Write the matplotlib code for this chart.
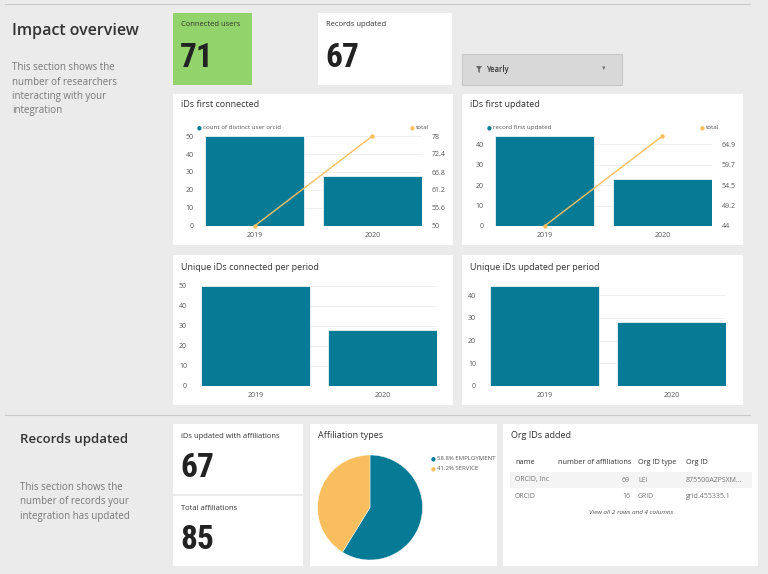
import matplotlib
matplotlib.use("Agg")
import matplotlib.pyplot as plt
from matplotlib.patches import Rectangle, Polygon
from matplotlib.ticker import FixedLocator

# ---------------- data ----------------
years = ["2019", "2020"]
connected_counts = [50, 28]
connected_totals = [50, 78]
updated_counts = [44, 23]
updated_totals = [44, 67]
unique_connected = [50, 28]
unique_updated = [44, 28]
kpi_labels = ["Connected users", "Records updated", "iDs updated with affiliations", "Total affiliations"]
kpi_values = [71, 67, 67, 85]
affiliation_types = ["EMPLOYMENT", "SERVICE"]
affiliation_shares = [58.8, 41.2]
table_header = ["name", "number of affiliations", "Org ID type", "Org ID"]
table_names = ["ORCID, Inc", "ORCID"]
table_counts = [69, 16]
table_types = ["LEI", "GRID"]
table_ids = ["875500AZPSXM...", "grid.455335.1"]

# ---------------- style ----------------
W, H = 768, 574
TEAL = "#077b95"
ORANGE = "#f9bf5f"
GREEN = "#92d36b"
BG = "#ebebeb"
DARK = "#333333"
MID = "#555555"
LIGHT = "#777777"
plt.rcParams["font.family"] = ["Open Sans", "DejaVu Sans"]

fig = plt.figure(figsize=(W / 100, H / 100), dpi=100, facecolor=BG)


def fx(x):
    return x / W


def fy(y):
    return 1 - y / H


def rect(x0, y0, x1, y1):
    return [x0 / W, 1 - y1 / H, (x1 - x0) / W, (y1 - y0) / H]


def panel(x0, y0, x1, y1, color="white", edge="none"):
    fig.add_artist(Rectangle((fx(x0), fy(y1)), (x1 - x0) / W, (y1 - y0) / H,
                             transform=fig.transFigure, facecolor=color,
                             edgecolor=edge, linewidth=0.8, zorder=0))


def text(x, y, s, size=7, color=DARK, **kw):
    kw.setdefault("va", "center")
    kw.setdefault("ha", "left")
    fig.text(fx(x), fy(y), s, fontsize=size, color=color, **kw)


# separators
fig.add_artist(plt.Line2D([fx(5), fx(750)], [fy(4), fy(4)], color="#c9c9c9", lw=0.8))
fig.add_artist(plt.Line2D([fx(5), fx(750)], [fy(415), fy(415)], color="#c9c9c9", lw=0.8))

# section 1 text
text(12, 31, "Impact overview", size=11.5, color=DARK, fontweight="semibold")
for i, line in enumerate(["This section shows the", "number of researchers",
                          "interacting with your", "integration"]):
    text(12, 68 + i * 14.3, line, size=7, color=LIGHT)

# KPI cards
BIGFONT = ["Roboto Condensed", "Liberation Sans Narrow", "DejaVu Sans"]
panel(173, 13, 252, 85, color=GREEN)
text(181, 25, kpi_labels[0], size=5.5, color=DARK)
text(180, 58, str(kpi_values[0]), size=24, color="#222222", fontweight="bold", family=BIGFONT)
panel(318, 13, 452, 85)
text(326, 25, kpi_labels[1], size=5.5, color=DARK)
text(325, 58, str(kpi_values[1]), size=24, color="#222222", fontweight="bold", family=BIGFONT)

# dropdown
panel(462, 54, 622, 85, color="#d8d8d8", edge="#c6c6c6")
fig.add_artist(Polygon([(fx(476), fy(66)), (fx(482), fy(66)), (fx(479.8), fy(69)),
                        (fx(479.8), fy(73)), (fx(478.2), fy(72)), (fx(478.2), fy(69))],
                       closed=True, transform=fig.transFigure, facecolor="#666666",
                       edgecolor="none"))
text(486, 70, "Yearly", size=5.5, color=DARK, fontweight="semibold")
text(604, 69, "\u25be", size=5, color="#777777", ha="center")


def style_axis(ax, ymax, yticks, pad):
    ax.set_facecolor("none")
    for s in ax.spines.values():
        s.set_visible(False)
    ax.set_ylim(0, ymax)
    ax.yaxis.set_major_locator(FixedLocator(yticks))
    ax.tick_params(axis="x", length=0, labelsize=5, colors=MID, pad=4)
    ax.tick_params(axis="y", length=0, labelsize=5, colors=MID, pad=pad)
    ax.grid(axis="y", color="#eeeeee", lw=0.6)
    ax.set_axisbelow(True)


def bar_chart(px, vals, ymax, yticks, width=0.84, xlim=(-0.42, 1.42), pad=8):
    ax = fig.add_axes(rect(*px))
    ax.bar(range(len(years)), vals, width=width, color=TEAL, edgecolor="white", lw=0.5, zorder=2)
    ax.set_xticks(range(len(years)))
    ax.set_xticklabels(years)
    ax.set_xlim(*xlim)
    style_axis(ax, ymax, yticks, pad)
    return ax


def combo(px, counts, totals, ymax, yticks, tot_lo, tot_hi, rticks, lname):
    ax = bar_chart(px, counts, ymax, yticks, pad=8)
    ax2 = ax.twinx()
    ax2.plot(range(len(years)), totals, color=ORANGE, lw=1.0, marker="o", ms=2.2,
             zorder=3, clip_on=False)
    ax2.set_ylim(tot_lo, tot_hi)
    ax2.yaxis.set_major_locator(FixedLocator(rticks))
    ax2.set_yticklabels(["%g" % round(t, 1) for t in rticks])
    ax2.tick_params(axis="y", length=0, labelsize=5, colors=MID, pad=7)
    for s in ax2.spines.values():
        s.set_visible(False)
    x0, y0, x1, y1 = px
    # legends
    fig.text(fx(x0 - 8), fy(y0 - 8), "\u25cf", fontsize=4, color=TEAL, va="center")
    fig.text(fx(x0 - 2), fy(y0 - 8), lname, fontsize=4.5, color=MID, va="center")
    fig.text(fx(x1 - 12), fy(y0 - 8), "\u25cf", fontsize=4, color=ORANGE, va="center")
    fig.text(fx(x1 - 6), fy(y0 - 8), "total", fontsize=4.5, color=MID, va="center")
    return ax


# panel 1
panel(173, 94, 453, 245)
text(181, 105, "iDs first connected", size=6.5, color=DARK)
step1 = (connected_totals[1] - connected_totals[0]) / 5
combo((205, 136, 422, 226), connected_counts, connected_totals, 50, [0, 10, 20, 30, 40, 50],
      connected_totals[0], connected_totals[1],
      [connected_totals[0] + k * step1 for k in range(6)], "count of distinct user orcid")

# panel 2
panel(462, 94, 743, 245)
text(470, 105, "iDs first updated", size=6.5, color=DARK)
ratio = (updated_totals[1] - updated_totals[0]) / updated_counts[0]
combo((495, 136, 712, 226), updated_counts, updated_totals, updated_counts[0], [0, 10, 20, 30, 40],
      updated_totals[0], updated_totals[1],
      [updated_totals[0] + k * 10 * ratio for k in range(5)], "record first updated")

# panel 3
panel(173, 255, 453, 405)
text(181, 267, "Unique iDs connected per period", size=6.5, color=DARK)
bar_chart((201, 286, 437, 386), unique_connected, 50, [0, 10, 20, 30, 40, 50],
          width=0.86, xlim=(-0.43, 1.43), pad=10)

# panel 4
panel(462, 255, 743, 405)
text(470, 267, "Unique iDs updated per period", size=6.5, color=DARK)
bar_chart((490, 286, 726, 386), unique_updated, 44, [0, 10, 20, 30, 40],
          width=0.86, xlim=(-0.43, 1.43), pad=10)

# section 2 text
text(20, 440, "Records updated", size=9.5, color=DARK, fontweight="semibold")
for i, line in enumerate(["This section shows the", "number of records your",
                          "integration has updated"]):
    text(20, 487 + i * 14.8, line, size=7, color=LIGHT)

# KPI cards bottom
panel(173, 424, 303, 494)
text(181, 436, kpi_labels[2], size=5.5, color=DARK)
text(180, 468, str(kpi_values[2]), size=24, color="#222222", fontweight="bold", family=BIGFONT)
panel(173, 496, 303, 566)
text(181, 508, kpi_labels[3], size=5.5, color=DARK)
text(180, 540, str(kpi_values[3]), size=24, color="#222222", fontweight="bold", family=BIGFONT)

# pie
panel(310, 424, 497, 566)
text(318, 436, "Affiliation types", size=6.5, color=DARK)
axp = fig.add_axes(rect(317, 455, 423, 560))
axp.pie(affiliation_shares, colors=[TEAL, ORANGE], startangle=90, counterclock=False,
        wedgeprops=dict(edgecolor="white", linewidth=0.3))
axp.set_xlim(-1.0, 1.0)
axp.set_ylim(-1.0, 1.0)
axp.set_aspect("equal")
for i, (lab, sh) in enumerate(zip(affiliation_types, affiliation_shares)):
    text(431, 459 + i * 9.5, "\u25cf", size=4, color=[TEAL, ORANGE][i])
    text(437, 459 + i * 9.5, "%.1f%% %s" % (sh, lab), size=4.3, color=MID)

# table
panel(503, 424, 758, 566)
text(511, 436, "Org IDs added", size=6.5, color=DARK)
cols_x = [515, 558, 638, 686]
for cx, h in zip(cols_x, table_header):
    text(cx, 463, h, size=5.2, color=DARK)
panel(510, 472, 752, 488, color="#f4f4f4")
for r in range(len(table_names)):
    y = 480 + r * 16
    text(515, y, table_names[r], size=5.0, color=LIGHT)
    text(630, y, str(table_counts[r]), size=5.0, color=LIGHT, ha="right")
    text(638, y, table_types[r], size=5.0, color=LIGHT)
    text(686, y, table_ids[r], size=5.0, color=LIGHT)
text(631, 513, "View all 2 rows and 4 columns", size=4.6, color=MID, ha="center", style="italic")

fig.savefig("out.png", dpi=100, facecolor=BG)
